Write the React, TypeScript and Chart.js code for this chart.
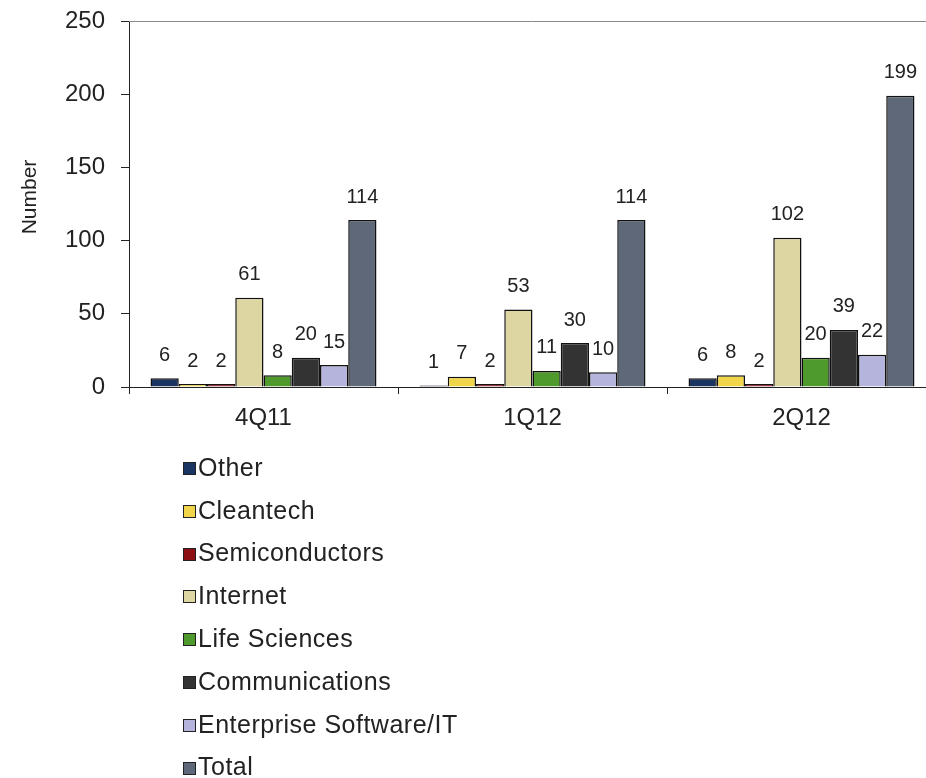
import React, { useEffect, useRef } from "react";
import { Chart, registerables } from "chart.js";

Chart.register(...registerables);

const categories = ["4Q11", "1Q12", "2Q12"];
const seriesNames = [
  "Other",
  "Cleantech",
  "Semiconductors",
  "Internet",
  "Life Sciences",
  "Communications",
  "Enterprise Software/IT",
  "Total",
];
const other = [6, 1, 6];
const cleantech = [2, 7, 8];
const semiconductors = [2, 2, 2];
const internet = [61, 53, 102];
const lifeSciences = [8, 11, 20];
const communications = [20, 30, 39];
const enterprise = [15, 10, 22];
const total = [114, 114, 199];
const seriesValues = [other, cleantech, semiconductors, internet, lifeSciences, communications, enterprise, total];
const seriesColors = ["#1b3563", "#f0d54a", "#8c0f14", "#ddd6a2", "#4f9a2c", "#333333", "#b5b4dc", "#5e6878"];
const yTicks = [0, 50, 100, 150, 200, 250];
const yTitle = "Number";

const FONT = "'Liberation Sans', Arial, sans-serif";

const labelPlugin = {
  id: "valueLabels",
  afterDatasetsDraw(chart: any) {
    const ctx = chart.ctx;
    ctx.save();
    ctx.font = `20px ${FONT}`;
    ctx.fillStyle = "#222";
    ctx.textAlign = "center";
    ctx.textBaseline = "middle";
    chart.data.datasets.forEach((ds: any, i: number) => {
      const meta = chart.getDatasetMeta(i);
      meta.data.forEach((bar: any, j: number) => {
        ctx.fillText(String(ds.data[j]), bar.x, bar.y - 23);
      });
    });
    const a = chart.chartArea;
    ctx.strokeStyle = "#8a8a8a";
    ctx.lineWidth = 1;
    ctx.beginPath();
    ctx.moveTo(a.left, Math.round(a.top) + 0.5);
    ctx.lineTo(a.right, Math.round(a.top) + 0.5);
    ctx.stroke();
    // y-axis title
    ctx.translate(30, 197);
    ctx.rotate(-Math.PI / 2);
    ctx.font = `21px ${FONT}`;
    ctx.fillText(yTitle, 0, 0);
    ctx.restore();
  },
};

const legendPlugin = {
  id: "customLegend",
  afterDraw(chart: any) {
    const ctx = chart.ctx;
    ctx.save();
    ctx.font = `25px ${FONT}`;
    try {
      (ctx as any).letterSpacing = "0.5px";
    } catch (e) {}
    ctx.textAlign = "left";
    ctx.textBaseline = "middle";
    seriesNames.forEach((name, i) => {
      const y = 469 + i * 42.8;
      const top = Math.round(y - 6);
      ctx.fillStyle = seriesColors[i];
      ctx.fillRect(184, top, 11, 11);
      ctx.strokeStyle = "#222";
      ctx.lineWidth = 1;
      ctx.strokeRect(183.5, top - 0.5, 12, 12);
      ctx.fillStyle = "#222";
      ctx.fillText(name, 198, y);
    });
    ctx.restore();
  },
};

export default function App() {
  const ref = useRef<HTMLCanvasElement>(null);
  useEffect(() => {
    if (!ref.current) return;
    const chart = new Chart(ref.current, {
      type: "bar",
      data: {
        labels: categories,
        datasets: seriesNames.map((name, i) => ({
          label: name,
          data: seriesValues[i],
          backgroundColor: seriesColors[i],
          borderColor: "#111",
          borderWidth: 1.5,
          categoryPercentage: 0.84,
          barPercentage: 1.0,
        })),
      },
      options: {
        animation: false,
        responsive: false,
        maintainAspectRatio: false,
        layout: { padding: { top: 21, left: 0, right: 4, bottom: 0 } },
        plugins: {
          legend: { display: false },
          tooltip: { enabled: false },
        },
        scales: {
          x: {
            grid: { display: true, drawOnChartArea: false, drawTicks: true, tickLength: 7, color: "#222", offset: true },
            border: { display: true, color: "#222", width: 1 },
            ticks: { color: "#222", font: { family: FONT, size: 24 }, padding: 10 },
            afterFit: (s: any) => {
              s.height = 778 - 387;
              s.paddingLeft = 0;
              s.paddingRight = 0;
            },
          },
          y: {
            min: 0,
            max: 250,
            afterBuildTicks: (s: any) => {
              s.ticks = yTicks.map((v) => ({ value: v }));
            },
            grid: { display: true, drawOnChartArea: false, drawTicks: true, tickLength: 8, color: "#222" },
            border: { display: true, color: "#222", width: 1 },
            ticks: { color: "#222", font: { family: FONT, size: 24 }, padding: 16 },
            title: { display: false },
            afterFit: (s: any) => {
              s.width = 129;
              s.paddingTop = 0;
              s.paddingBottom = 0;
            },
          },
        },
      },
      plugins: [labelPlugin, legendPlugin],
    });
    return () => chart.destroy();
  }, []);
  return (
    <div style={{ position: "fixed", left: 0, top: 0, width: 926, height: 778, background: "#fff", overflow: "hidden" }}>
      <canvas ref={ref} width={940} height={778} style={{ display: "block" }} />
    </div>
  );
}
